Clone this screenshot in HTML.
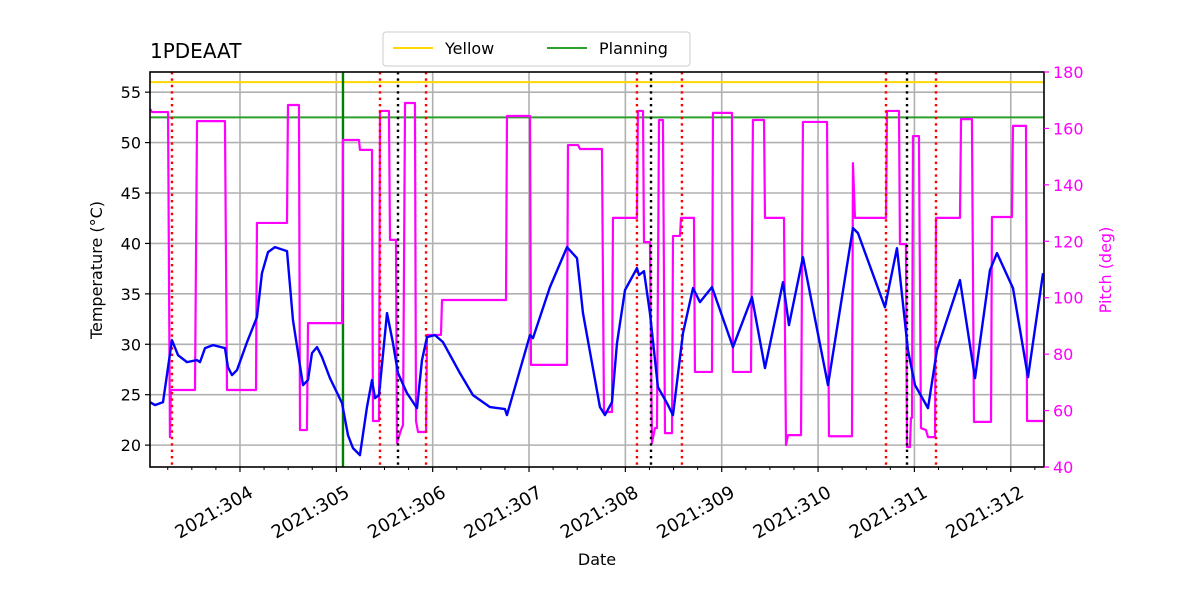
<!DOCTYPE html>
<html><head><meta charset="utf-8"><style>
html,body{margin:0;padding:0;background:#fff;}
svg{display:block;font-family:"DejaVu Sans","Liberation Sans",sans-serif;}
</style></head><body>
<svg id="chart" width="1200" height="600" viewBox="0 0 1200 600">
<rect width="1200" height="600" fill="#fff"/>
<g id="grid"></g>
<g id="marks"></g>
<rect x="150" y="72" width="894" height="395" fill="none" stroke="#000" stroke-width="1.6"/>
<g id="axes"></g>
<text x="150" y="58" font-size="20">1PDEAAT</text>
<text x="597" y="565" font-size="16" text-anchor="middle">Date</text>
<text transform="translate(102,270) rotate(-90)" font-size="16" text-anchor="middle">Temperature (°C)</text>
<text transform="translate(1111,270) rotate(-90)" font-size="16" text-anchor="middle" fill="#ff00ff">Pitch (deg)</text>
<g>
<rect x="383" y="32" width="307" height="34" rx="3" fill="#fff" stroke="#ccc"/>
<line x1="393" y1="48" x2="433" y2="48" stroke="#ffd700" stroke-width="2"/>
<text x="445" y="54" font-size="16">Yellow</text>
<line x1="547" y1="48" x2="587" y2="48" stroke="#2ca02c" stroke-width="2"/>
<text x="599" y="54" font-size="16">Planning</text>
</g>
</svg>
<script>
const tempDays=[303.066,303.118,303.201,303.294,303.357,303.450,303.554,303.585,303.637,303.720,303.844,303.875,303.917,303.969,304.073,304.176,304.228,304.291,304.363,304.488,304.550,304.654,304.706,304.747,304.799,304.851,304.934,305.059,305.121,305.173,305.245,305.318,305.370,305.401,305.443,305.526,305.588,305.640,305.733,305.837,305.889,305.941,306.024,306.107,306.283,306.418,306.595,306.750,306.771,307.010,307.041,307.217,307.394,307.498,307.560,307.736,307.788,307.861,307.913,307.996,308.120,308.141,308.193,308.255,308.338,308.432,308.494,308.598,308.702,308.774,308.899,309.117,309.314,309.449,309.636,309.698,309.843,310.103,310.362,310.414,310.694,310.819,310.933,311.006,311.141,311.234,311.473,311.629,311.784,311.857,312.023,312.179,312.335];
const tempVals=[24.26,23.97,24.26,30.41,28.92,28.23,28.43,28.23,29.62,29.92,29.62,27.73,26.94,27.44,30.21,32.69,37.05,39.14,39.63,39.24,32.39,25.95,26.45,29.12,29.72,28.73,26.64,24.16,20.99,19.70,19.01,23.77,26.45,24.66,24.96,33.09,30.11,27.14,25.16,23.67,28.43,30.71,30.91,30.21,27.14,24.96,23.77,23.57,22.98,30.91,30.61,35.67,39.63,38.54,33.09,23.77,22.98,24.26,30.11,35.37,37.55,36.86,37.25,33.09,25.75,24.16,22.98,31.11,35.57,34.18,35.67,29.72,34.67,27.64,36.16,31.90,38.64,25.95,41.52,41.02,33.68,39.53,29.42,25.95,23.67,29.42,36.36,26.64,37.35,39.04,35.57,26.74,37.05];
const pitchDays=[303.066,303.087,303.253,303.273,303.283,303.533,303.554,303.844,303.865,304.166,304.176,304.488,304.498,304.612,304.623,304.695,304.706,305.059,305.069,305.090,305.235,305.245,305.370,305.380,305.443,305.453,305.546,305.557,305.619,305.629,305.671,305.692,305.713,305.816,305.827,305.848,305.931,305.941,306.086,306.097,306.761,306.771,307.010,307.020,307.394,307.404,307.508,307.529,307.757,307.778,307.861,307.871,308.120,308.130,308.183,308.193,308.255,308.276,308.307,308.328,308.349,308.390,308.411,308.484,308.494,308.567,308.577,308.712,308.722,308.899,308.909,309.106,309.117,309.304,309.324,309.439,309.449,309.646,309.667,309.688,309.823,309.843,310.093,310.113,310.352,310.362,310.383,310.705,310.715,310.840,310.850,310.912,310.923,310.954,310.964,310.975,310.985,311.047,311.068,311.120,311.141,311.214,311.224,311.473,311.484,311.597,311.618,311.795,311.805,312.012,312.023,312.158,312.169,312.345];
const pitchVals=[166.9,165.8,165.8,50.6,67.3,67.3,162.6,162.6,67.3,67.3,126.5,126.5,168.3,168.3,53.1,53.1,91.0,91.0,155.9,155.9,155.9,152.4,152.4,56.3,56.3,166.2,166.2,120.5,120.5,48.5,53.1,54.9,169.0,169.0,56.3,52.4,52.4,86.8,86.8,99.2,99.2,164.4,164.4,76.2,76.2,154.1,154.1,152.7,152.7,59.5,59.5,128.3,128.3,166.2,166.2,119.7,119.7,48.5,53.8,53.8,163.0,163.0,52.0,52.0,121.9,121.9,128.3,128.3,73.7,73.7,165.5,165.5,73.7,73.7,163.0,163.0,128.3,128.3,47.8,51.3,51.3,162.3,162.3,50.9,50.9,147.7,128.3,128.3,166.2,166.2,119.0,119.0,47.1,47.1,57.4,57.4,157.3,157.3,53.8,53.1,50.6,50.6,128.3,128.3,163.3,163.3,56.0,56.0,128.6,128.6,160.9,160.9,56.3,56.3];
const redEvents=[303.294,305.453,305.931,308.120,308.587,310.705,311.224];
const blackEvents=[305.640,308.266,310.923];
const planningDay=[305.069];
const yellowLimit=[56.0];
const planningLimit=[52.5];
const xTickDays=[304,305,306,307,308,309,310,311,312];
const xTickLabels=["2021:304","2021:305","2021:306","2021:307","2021:308","2021:309","2021:310","2021:311","2021:312"];
const yTicks=[20,25,30,35,40,45,50,55];
const y2Ticks=[40,60,80,100,120,140,160,180];

const X0=150,X1=1044,Y0=72,Y1=467;
const DMIN=303.066,DMAX=312.345,TMIN=17.83,TMAX=57.0,PMIN=40,PMAX=180;
const xs=d=>X0+(d-DMIN)/(DMAX-DMIN)*(X1-X0);
const yT=v=>Y1-(v-TMIN)/(TMAX-TMIN)*(Y1-Y0);
const yP=v=>Y1-(v-PMIN)/(PMAX-PMIN)*(Y1-Y0);
const NS='http://www.w3.org/2000/svg';
function mk(tag,attrs,parent){const e=document.createElementNS(NS,tag);for(const k in attrs)e.setAttribute(k,attrs[k]);parent.appendChild(e);return e;}
const grid=document.getElementById('grid'),marks=document.getElementById('marks'),axes=document.getElementById('axes');
xTickDays.forEach((d,i)=>{
  const gl=mk('line',{x1:xs(d),x2:xs(d),y1:Y0,y2:Y1,stroke:'#b0b0b0','stroke-width':1.6},grid);
  
  
  const t=mk('line',{x1:xs(d),x2:xs(d),y1:Y1,y2:Y1+5,stroke:'#000','stroke-width':1.2},axes);
  
  
  const lb=mk('text',{transform:`translate(${xs(d)+8},${Y1+18}) rotate(-30)`,'text-anchor':'end','font-size':18,dy:'0.7em'},axes);
  lb.textContent=xTickLabels[i];
  
  
});
for(let d=303.25;d<DMAX;d+=0.25){
  if(Math.abs(d-Math.round(d))<0.01)continue;
  const m=mk('line',{x1:xs(d),x2:xs(d),y1:Y1,y2:Y1+3,stroke:'#000','stroke-width':1},axes);
  
  
}
yTicks.forEach(v=>{
  const gl=mk('line',{x1:X0,x2:X1,y1:yT(v),y2:yT(v),stroke:'#b0b0b0','stroke-width':1.6},grid);
  
  
  const t=mk('line',{x1:X0-5,x2:X0,y1:yT(v),y2:yT(v),stroke:'#000','stroke-width':1.2},axes);
  
  
  const lb=mk('text',{x:X0-9,y:yT(v)+6,'text-anchor':'end','font-size':16},axes);
  lb.textContent=v;
  
  
});
y2Ticks.forEach(v=>{
  const t=mk('line',{x1:X1,x2:X1+5,y1:yP(v),y2:yP(v),stroke:'#ff00ff','stroke-width':1.2},axes);
  
  
  const lb=mk('text',{x:X1+9,y:yP(v)+6,'font-size':16,fill:'#ff00ff'},axes);
  lb.textContent=v;
  
  
});
const yl=mk('line',{x1:X0,x2:X1,y1:yT(yellowLimit[0]),y2:yT(yellowLimit[0]),stroke:'#ffd700','stroke-width':2},marks);


const pl=mk('line',{x1:X0,x2:X1,y1:yT(planningLimit[0]),y2:yT(planningLimit[0]),stroke:'#2ca02c','stroke-width':2},marks);


const pv=mk('line',{x1:xs(planningDay[0]),x2:xs(planningDay[0]),y1:Y0,y2:Y1,stroke:'#008000','stroke-width':2.4},marks);


const pp=mk('polyline',{points:pitchDays.map((d,i)=>xs(d)+','+yP(pitchVals[i])).join(' '),fill:'none',stroke:'#ff00ff','stroke-width':2.2,'stroke-linejoin':'round'},marks);


redEvents.forEach(d=>{
  const l=mk('line',{x1:xs(d),x2:xs(d),y1:Y0,y2:Y1,stroke:'#ff0000','stroke-width':2.4,'stroke-dasharray':'2.4 4'},marks);
  
  
});
blackEvents.forEach(d=>{
  const l=mk('line',{x1:xs(d),x2:xs(d),y1:Y0,y2:Y1,stroke:'#000','stroke-width':2.4,'stroke-dasharray':'2.4 4'},marks);
  
  
});
const tp=mk('polyline',{points:tempDays.map((d,i)=>xs(d)+','+yT(tempVals[i])).join(' '),fill:'none',stroke:'#0000ff','stroke-width':2.4,'stroke-linejoin':'round'},marks);


</script>
</body></html>
